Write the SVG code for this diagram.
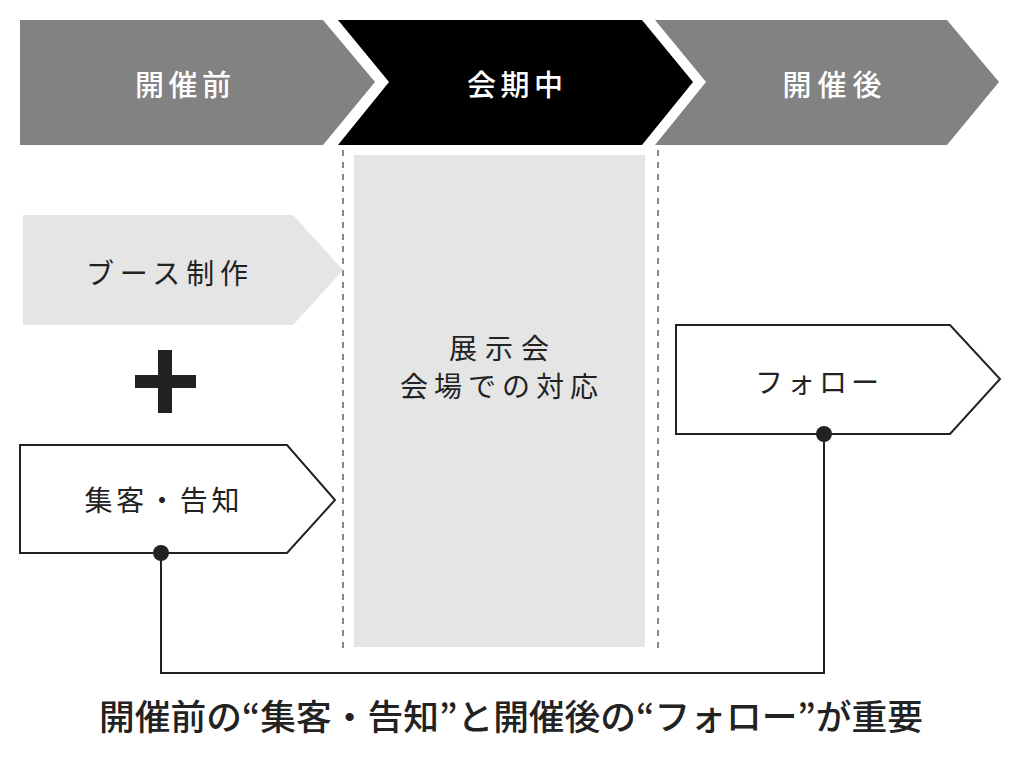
<svg xmlns="http://www.w3.org/2000/svg" width="1024" height="759" viewBox="0 0 1024 759">
<style>
text{font-family:"Noto Sans CJK JP","Noto Sans",sans-serif;text-anchor:middle}
.w{fill:#fff;font-size:29px;font-weight:500}
.d{fill:#222;font-size:28px;font-weight:400}
.ol{fill:#fff;stroke:#222;stroke-width:2}
.dash{stroke:#888;stroke-width:2;stroke-dasharray:6 6;fill:none}
.con{fill:none;stroke:#222;stroke-width:2}
</style>
<rect width="1024" height="759" fill="#fff"/>
<g id="phase-before">
<polygon points="20,20 323,20 375,82 323,145 20,145" fill="#828282"/>
<text class="w" x="183" y="96" textLength="96" lengthAdjust="spacing">開催前</text>
</g>
<g id="phase-during">
<polygon points="338,20 642,20 693,82 642,145 338,145 389,82" fill="#000"/>
<text class="w" x="515" y="96" textLength="96" lengthAdjust="spacing">会期中</text>
</g>
<g id="phase-after">
<polygon points="655,20 947,20 999,82 947,145 655,145 706,82" fill="#828282"/>
<text class="w" x="832" y="96" textLength="99" lengthAdjust="spacing">開催後</text>
</g>
<g id="guides">
<line class="dash" x1="343" y1="150" x2="343" y2="648"/>
<line class="dash" x1="658" y1="150" x2="658" y2="648"/>
</g>
<g id="booth">
<polygon points="23,215 293,215 343,270 293,325 23,325" fill="#e5e5e5"/>
<text class="d" x="167" y="284" textLength="162" lengthAdjust="spacing">ブース制作</text>
</g>
<g id="plus">
<rect x="135" y="375" width="61" height="13" fill="#222"/>
<rect x="158" y="350" width="14" height="63" fill="#222"/>
</g>
<g id="promotion">
<polygon class="ol" points="20,445 287,445 335,500 287,553 20,553"/>
<text class="d" x="162" y="511" textLength="155" lengthAdjust="spacing">集客・告知</text>
</g>
<g id="exhibition">
<rect x="354" y="155" width="291" height="492" fill="#e5e5e5"/>
<text class="d" x="499" y="359" textLength="100" lengthAdjust="spacing">展示会</text>
<text class="d" x="499" y="397" textLength="198" lengthAdjust="spacing">会場での対応</text>
</g>
<g id="follow">
<polygon class="ol" points="676,325 950,325 1000,379 950,434 676,434"/>
<text class="d" x="817" y="393" textLength="124" lengthAdjust="spacing">フォロー</text>
</g>
<g id="connectors">
<polyline class="con" points="161,553 161,673 824,673 824,434"/>
<circle cx="161" cy="553" r="8" fill="#222"/>
<circle cx="824" cy="434" r="8" fill="#222"/>
</g>
<g id="caption">
<text x="511" y="730" style="fill:#222;font-size:35px;font-weight:500" textLength="824" lengthAdjust="spacingAndGlyphs">開催前の“集客・告知”と開催後の“フォロー”が重要</text>
</g>
</svg>
